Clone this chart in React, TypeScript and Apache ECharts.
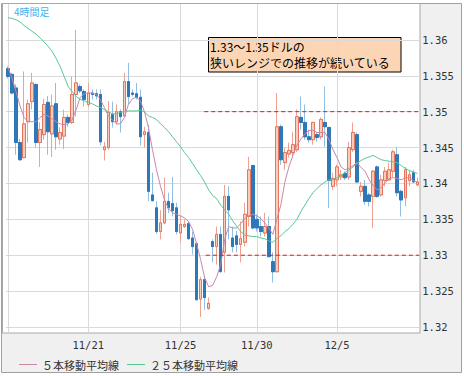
import React, { useEffect, useRef } from 'react';
import * as echarts from 'echarts';

// ---- data (4-hour candles) ----
const opens = [
  1.3560, 1.3552, 1.3533, 1.3457, 1.3436, 1.3486, 1.3514, 1.3538, 1.3457, 1.3468,
  1.3513, 1.3469, 1.3511, 1.3462, 1.3466, 1.3492, 1.3485, 1.3524, 1.3535, 1.3528,
  1.3510, 1.3526, 1.3525, 1.3524, 1.3447, 1.3450, 1.3496, 1.3486, 1.3500, 1.3494,
  1.3542, 1.3526, 1.3525, 1.3520, 1.3468, 1.3471, 1.3384, 1.3366, 1.3333, 1.3345,
  1.3375, 1.3372, 1.3366, 1.3331, 1.3340, 1.3344, 1.3324, 1.3316, 1.3239, 1.3266,
  1.3226, 1.3319, 1.3312, 1.3329, 1.3304, 1.3382, 1.3324, 1.3327, 1.3315, 1.3318,
  1.3354, 1.3425, 1.3350, 1.3340, 1.3331, 1.3340, 1.3291, 1.3277, 1.3479, 1.3429,
  1.3441, 1.3443, 1.3447, 1.3492, 1.3485, 1.3465, 1.3461, 1.3468, 1.3465, 1.3485,
  1.3478, 1.3396, 1.3405, 1.3409, 1.3414, 1.3409, 1.3447, 1.3468, 1.3389, 1.3396,
  1.3384, 1.3382, 1.3423, 1.3384, 1.3404, 1.3405, 1.3417, 1.3440, 1.3389, 1.3380,
  1.3404, 1.3415, 1.3398,
];
const highs = [
  1.3563, 1.3554, 1.3538, 1.3462, 1.3556, 1.3517, 1.3554, 1.3539, 1.3485, 1.3518,
  1.3522, 1.3524, 1.3540, 1.3478, 1.3503, 1.3496, 1.3549, 1.3614, 1.3538, 1.3531,
  1.3540, 1.3531, 1.3531, 1.3531, 1.3458, 1.3515, 1.3514, 1.3510, 1.3503, 1.3554,
  1.3568, 1.3531, 1.3540, 1.3531, 1.3479, 1.3482, 1.3415, 1.3375, 1.3363, 1.3408,
  1.3387, 1.3409, 1.3373, 1.3354, 1.3350, 1.3347, 1.3333, 1.3318, 1.3270, 1.3270,
  1.3241, 1.3322, 1.3340, 1.3340, 1.3398, 1.3396, 1.3340, 1.3334, 1.3347, 1.3373,
  1.3437, 1.3426, 1.3357, 1.3354, 1.3359, 1.3354, 1.3304, 1.3526, 1.3482, 1.3450,
  1.3457, 1.3472, 1.3503, 1.3521, 1.3510, 1.3475, 1.3486, 1.3472, 1.3492, 1.3535,
  1.3479, 1.3415, 1.3426, 1.3419, 1.3417, 1.3458, 1.3485, 1.3471, 1.3402, 1.3405,
  1.3387, 1.3419, 1.3425, 1.3412, 1.3423, 1.3429, 1.3447, 1.3451, 1.3391, 1.3423,
  1.3419, 1.3419, 1.3408,
];
const lows = [
  1.3546, 1.3524, 1.3440, 1.3432, 1.3435, 1.3457, 1.3503, 1.3450, 1.3423, 1.3461,
  1.3440, 1.3437, 1.3447, 1.3454, 1.3448, 1.3479, 1.3483, 1.3493, 1.3526, 1.3507,
  1.3506, 1.3517, 1.3517, 1.3453, 1.3432, 1.3447, 1.3478, 1.3482, 1.3471, 1.3493,
  1.3510, 1.3521, 1.3517, 1.3453, 1.3450, 1.3375, 1.3375, 1.3330, 1.3322, 1.3343,
  1.3359, 1.3354, 1.3329, 1.3318, 1.3338, 1.3322, 1.3301, 1.3237, 1.3214, 1.3224,
  1.3224, 1.3290, 1.3287, 1.3276, 1.3276, 1.3322, 1.3304, 1.3304, 1.3290, 1.3312,
  1.3340, 1.3336, 1.3333, 1.3326, 1.3326, 1.3297, 1.3262, 1.3276, 1.3426, 1.3419,
  1.3436, 1.3436, 1.3444, 1.3475, 1.3461, 1.3457, 1.3454, 1.3458, 1.3461, 1.3451,
  1.3366, 1.3391, 1.3396, 1.3405, 1.3405, 1.3405, 1.3444, 1.3401, 1.3382, 1.3370,
  1.3368, 1.3338, 1.3380, 1.3382, 1.3396, 1.3404, 1.3409, 1.3382, 1.3354, 1.3368,
  1.3396, 1.3401, 1.3396,
];
const closes = [
  1.3549, 1.3526, 1.3457, 1.3433, 1.3483, 1.3511, 1.3540, 1.3457, 1.3475, 1.3510,
  1.3472, 1.3508, 1.3465, 1.3471, 1.3492, 1.3485, 1.3524, 1.3540, 1.3529, 1.3517,
  1.3526, 1.3524, 1.3522, 1.3458, 1.3451, 1.3499, 1.3486, 1.3500, 1.3493, 1.3542,
  1.3521, 1.3524, 1.3520, 1.3465, 1.3472, 1.3389, 1.3376, 1.3333, 1.3345, 1.3375,
  1.3366, 1.3362, 1.3333, 1.3343, 1.3343, 1.3323, 1.3312, 1.3238, 1.3266, 1.3241,
  1.3233, 1.3312, 1.3329, 1.3277, 1.3382, 1.3363, 1.3312, 1.3315, 1.3323, 1.3357,
  1.3419, 1.3338, 1.3338, 1.3333, 1.3340, 1.3298, 1.3277, 1.3479, 1.3433, 1.3443,
  1.3446, 1.3454, 1.3493, 1.3485, 1.3465, 1.3461, 1.3485, 1.3464, 1.3489, 1.3479,
  1.3404, 1.3407, 1.3423, 1.3412, 1.3408, 1.3450, 1.3471, 1.3402, 1.3396, 1.3375,
  1.3375, 1.3417, 1.3382, 1.3405, 1.3417, 1.3419, 1.3444, 1.3387, 1.3377, 1.3419,
  1.3412, 1.3402, 1.3402,
];
const ma5 = [
  1.3561, 1.3547, 1.3528, 1.3508, 1.3492, 1.3486, 1.3486, 1.3486, 1.3492, 1.3496,
  1.3494, 1.3490, 1.3486, 1.3483, 1.3482, 1.3483, 1.3489, 1.3503, 1.3520, 1.3525,
  1.3526, 1.3526, 1.3524, 1.3517, 1.3506, 1.3494, 1.3489, 1.3483, 1.3483, 1.3492,
  1.3510, 1.3518, 1.3520, 1.3515, 1.3500, 1.3478, 1.3447, 1.3419, 1.3396, 1.3377,
  1.3365, 1.3359, 1.3357, 1.3355, 1.3352, 1.3347, 1.3336, 1.3316, 1.3294, 1.3269,
  1.3256, 1.3258, 1.3270, 1.3287, 1.3322, 1.3340, 1.3338, 1.3338, 1.3344, 1.3351,
  1.3355, 1.3357, 1.3355, 1.3351, 1.3345, 1.3338, 1.3329, 1.3350, 1.3370, 1.3402,
  1.3423, 1.3439, 1.3453, 1.3462, 1.3469, 1.3474, 1.3474, 1.3471, 1.3471, 1.3471,
  1.3461, 1.3447, 1.3436, 1.3423, 1.3419, 1.3421, 1.3425, 1.3429, 1.3422, 1.3417,
  1.3405, 1.3397, 1.3391, 1.3394, 1.3401, 1.3407, 1.3408, 1.3407, 1.3405, 1.3408,
  1.3408, 1.3404, 1.3402,
];
const ma25 = [
  1.3631, 1.3630, 1.3628, 1.3625, 1.3620, 1.3616, 1.3612, 1.3608, 1.3603, 1.3597,
  1.3591, 1.3584, 1.3574, 1.3563, 1.3549, 1.3535, 1.3528, 1.3521, 1.3517, 1.3515,
  1.3513, 1.3511, 1.3508, 1.3506, 1.3503, 1.3500, 1.3497, 1.3497, 1.3499, 1.3500,
  1.3501, 1.3501, 1.3501, 1.3502, 1.3500, 1.3494, 1.3492, 1.3489, 1.3483, 1.3478,
  1.3472, 1.3465, 1.3458, 1.3451, 1.3443, 1.3436, 1.3428, 1.3419, 1.3411, 1.3402,
  1.3391, 1.3383, 1.3379, 1.3370, 1.3363, 1.3357, 1.3348, 1.3340, 1.3333, 1.3328,
  1.3327, 1.3326, 1.3326, 1.3324, 1.3323, 1.3320, 1.3318, 1.3323, 1.3327, 1.3333,
  1.3337, 1.3343, 1.3350, 1.3361, 1.3370, 1.3379, 1.3387, 1.3393, 1.3398, 1.3402,
  1.3405, 1.3405, 1.3408, 1.3411, 1.3415, 1.3419, 1.3423, 1.3428, 1.3432, 1.3435,
  1.3437, 1.3439, 1.3436, 1.3433, 1.3432, 1.3431, 1.3430, 1.3429, 1.3425, 1.3421,
  1.3418, 1.3416, 1.3414,
];
// date tick labels (category index -> label)
const dateTickIndex = [0, 20, 43, 62, 82];
const dateTickLabel = ['', '11/21', '11/25', '11/30', '12/5'];
const yTicks = [1.32, 1.325, 1.33, 1.335, 1.34, 1.345, 1.35, 1.355, 1.36];
// range lines (dashed) : level and starting candle index
const rangeLevels = [1.35, 1.33];
const rangeStartIndex = [48.9, 49.3];

const seriesNames = ['５本移動平均線', '２５本移動平均線'];
const titleLabel = '4時間足';
const noteText = '1.33〜1.35ドルの\n狭いレンジでの推移が続いている';

const categories = opens.map((_, i) => String(i));

export default function App() {
  const ref = useRef<HTMLDivElement>(null);
  useEffect(() => {
    if (!ref.current) return;
    const chart = echarts.init(ref.current, undefined, { renderer: 'svg' });
    const n = opens.length;
    const wickData = opens.map((o, i) => [o, closes[i], lows[i], highs[i]]);
    const bodyData = opens.map((o, i) => [o, closes[i], Math.min(o, closes[i]), Math.max(o, closes[i])]);
    const mono = 'DejaVu Sans Mono';
    const cjk = 'Noto Sans CJK JP';
    chart.setOption({
      animation: false,
      grid: { left: 6, right: 44.7, top: 4, height: 329, show: false },
      xAxis: [
        {
          type: 'category',
          data: categories,
          boundaryGap: true,
          axisLine: { show: false },
          axisTick: { show: false },
          splitLine: { show: false },
          axisLabel: {
            interval: (idx: number) => dateTickIndex.indexOf(idx) >= 0,
            formatter: (_v: string, idx: number) => {
              const k = dateTickIndex.indexOf(idx);
              return k >= 0 ? dateTickLabel[k] : '';
            },
            fontFamily: mono,
            fontSize: 10.5,
            color: '#333',
            margin: 6,
          },
        },
        { type: 'value', min: -0.5, max: n - 0.5, show: false },
      ],
      yAxis: {
        type: 'value',
        position: 'right',
        min: 1.319164,
        max: 1.365,
        axisLine: { show: false },
        axisTick: { show: true, length: 2, customValues: yTicks, lineStyle: { color: '#c8c8c8' } },
        axisLabel: {
          customValues: yTicks,
          margin: 3,
          fontFamily: mono,
          fontSize: 10.5,
          color: '#333',
          formatter: (v: number) => String(parseFloat(v.toFixed(3))),
        },
        splitLine: { show: true, lineStyle: { color: '#dadada', width: 1 } },
      },
      legend: {
        data: seriesNames,
        left: 14,
        top: 354,
        icon: 'rect',
        itemWidth: 18,
        itemHeight: 1,
        itemGap: 8,
        selectedMode: false,
        textStyle: { fontFamily: cjk, fontSize: 11, color: '#333' },
      },
      graphic: [
        {
          type: 'rect', z: -20, silent: true,
          shape: { x: 1.5, y: 3.5, width: 460, height: 369 },
          style: { fill: '#f0f0f0', stroke: '#a0a0a0', lineWidth: 1 },
        },
        {
          type: 'rect', z: -19, silent: true,
          shape: { x: 2.5, y: 3.5, width: 417.5, height: 329.5 },
          style: { fill: '#ffffff', stroke: '#a8a8a8', lineWidth: 1 },
        },
        {
          type: 'text', z: 50, left: 14, top: 6,
          style: { text: titleLabel, fill: '#3db3ec', font: `10px "${cjk}"` },
        },
        {
          type: 'group', z: 50, left: 208, top: 37,
          children: [
            {
              type: 'rect',
              shape: { x: 0.5, y: 0.5, width: 192.5, height: 34.5 },
              style: { fill: '#fcd5b4', stroke: '#000', lineWidth: 1 },
            },
            {
              type: 'text', x: 2, y: 1,
              style: { text: noteText, fill: '#000', font: `12px "${cjk}"`, lineHeight: 16, verticalAlign: 'top' },
            },
          ],
        },
      ],
      series: [
        {
          name: 'gridlines',
          type: 'line',
          xAxisIndex: 1,
          data: [],
          silent: true,
          markLine: {
            silent: true,
            z: 1,
            symbol: ['none', 'none'],
            label: { show: false },
            lineStyle: { color: '#dadada', type: 'solid', width: 1 },
            data: dateTickIndex.map((idx) => ({ xAxis: idx })),
          },
        },
        {
          name: 'wick',
          type: 'candlestick',
          data: wickData,
          barWidth: 3,
          z: 3,
          silent: true,
          itemStyle: {
            color: '#f8cdbd', color0: '#2f78b8',
            borderColor: '#eea28f', borderColor0: '#8fbfe2', borderWidth: 1,
          },
        },
        {
          name: 'body',
          type: 'candlestick',
          data: bodyData,
          barWidth: 3,
          z: 4,
          silent: true,
          itemStyle: {
            color: '#f8cdbd', color0: '#2f78b8',
            borderColor: '#e5755c', borderColor0: '#2f78b8', borderWidth: 1,
          },
        },
        {
          name: seriesNames[0],
          type: 'line',
          data: ma5,
          symbol: 'none',
          z: 5,
          color: '#cc86a8',
          itemStyle: { color: '#cc86a8' },
          lineStyle: { color: '#cc86a8', width: 1 },
        },
        {
          name: seriesNames[1],
          type: 'line',
          data: ma25,
          symbol: 'none',
          z: 5,
          color: '#58c892',
          itemStyle: { color: '#58c892' },
          lineStyle: { color: '#58c892', width: 1 },
        },
        ...rangeLevels.map((lv, k) => ({
          name: 'range' + k,
          type: 'line',
          xAxisIndex: 1,
          data: [[rangeStartIndex[k], lv], [n - 0.5, lv]],
          symbol: 'none',
          z: 6,
          silent: true,
          lineStyle: { color: '#e01818', width: 1, type: [4, 3] },
        })),
      ],
    });
    return () => chart.dispose();
  }, []);
  return <div ref={ref} style={{ position: 'absolute', left: 0, top: 0, width: 464, height: 376 }} />;
}
